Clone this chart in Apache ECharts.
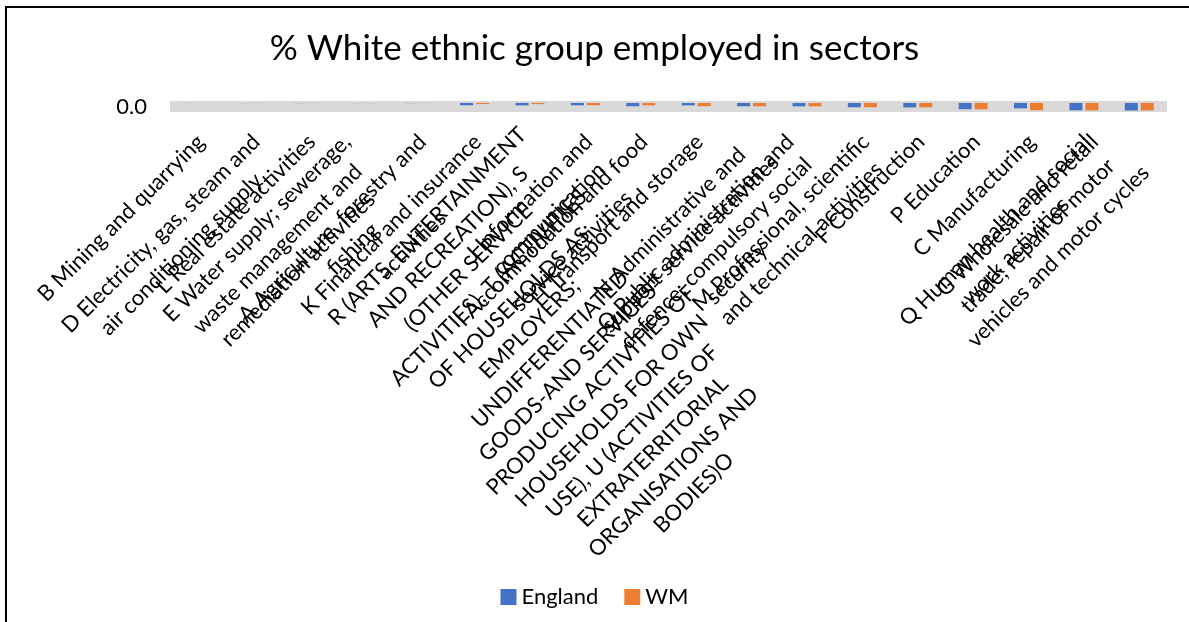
<!DOCTYPE html>
<html>
<head>
<meta charset="utf-8">
<script src="https://cdn.jsdelivr.net/npm/echarts@6/dist/echarts.min.js"></script>
<style>
  html, body { margin: 0; padding: 0; background: #fff; }
  #chart { width: 1189px; height: 622px; position: relative; }
  #frame { position: absolute; left: 5px; top: 6px; width: 1220px; height: 640px;
           border: 2px solid #000; pointer-events: none; box-sizing: border-box; }
</style>
</head>
<body>
<div id="chart"></div>
<div id="frame"></div>
<script>
// Industry sectors (wrapped label lines)
const sectors = [
  ['B Mining and quarrying'],
  ['D Electricity, gas, steam and', 'air conditioning supply'],
  ['L Real estate activities'],
  ['E Water supply; sewerage,', 'waste management and', 'remediation activities'],
  ['A Agriculture, forestry and', 'fishing'],
  ['K Financial and insurance', 'activities'],
  ['R (ARTS, ENTERTAINMENT', 'AND RECREATION), S', '(OTHER SERVICE', 'ACTIVITIES), T (ACTIVITIES',
   'OF HOUSEHOLDS AS', 'EMPLOYERS;', 'UNDIFFERENTIATED', 'GOODS-AND SERVICES-',
   'PRODUCING ACTIVITIES OF', 'HOUSEHOLDS FOR OWN', 'USE), U (ACTIVITIES OF',
   'EXTRATERRITORIAL', 'ORGANISATIONS AND', 'BODIES)O'],
  ['J Information and', 'communication'],
  ['I Accommodation and food', 'service activities'],
  ['H Transport and storage'],
  ['N Administrative and', 'support service activities'],
  ['O Public administration and', 'defence; compulsory social', 'security'],
  ['M Professional, scientific', 'and technical activities'],
  ['F Construction'],
  ['P Education'],
  ['C Manufacturing'],
  ['Q Human health and social', 'work activities'],
  ['G Wholesale and retail', 'trade; repair of motor', 'vehicles and motor cycles']
];
const categories = sectors.map(lines => lines.join('\n'));

// % of the White ethnic group employed in each sector
const england = [0.1, 0.2, 0.3, 0.2, 0.3, 4.5, 4.7, 4.6, 6.5, 4.8, 6.6, 6.7, 8.5, 8.8, 12.4, 10.7, 14.6, 15.0];
const wm      = [0.1, 0.2, 0.2, 0.3, 0.2, 2.1, 2.2, 4.4, 4.6, 6.4, 6.5, 6.7, 8.4, 8.7, 12.6, 14.5, 14.7, 14.9];

const valueTicks = [0];

const FONT = 'Lato, "Open Sans", sans-serif';
const LABEL_SIZE = 22;
const LINE_H = 29;
const BASE_PAD_RIGHT = 10;

// Screen-space nudges (dx, dy) for a few of the taller rotated label blocks.
const labelNudge = { 3: [-20, 0], 6: [-5, -13], 11: [-20, 0], 17: [-38, -10] };

// Turn a screen nudge into padding / vertical alignment for a label rotated 45°.
function nudgeStyle(idx) {
  const n = labelNudge[idx];
  if (!n) return null;
  const [dx, dy] = n;
  const a = (-dx + dy) / Math.SQRT2;   // shift back along the text direction
  const b = (-dx - dy) / Math.SQRT2;   // shift "up" perpendicular to the text
  const h = sectors[idx].length * LINE_H;
  const padRight = BASE_PAD_RIGHT + a;
  if (b > 0) {
    return { verticalAlign: 'middle', padding: [h - 2 * b, padRight, 0, 0] };
  }
  return { verticalAlign: 'top', padding: [-b, padRight, 0, 0] };
}

const categoryItems = categories.map((c, i) => {
  const s = nudgeStyle(i);
  return s ? { value: c, textStyle: s } : c;
});

const chart = echarts.init(document.getElementById('chart'), null, { renderer: 'canvas' });
chart.setOption({
  animation: false,
  backgroundColor: '#fff',
  title: {
    text: '% White ethnic group employed in sectors',
    left: 'center',
    top: 26,
    textStyle: { fontFamily: FONT, fontSize: 35, fontWeight: 'normal', color: '#000' }
  },
  legend: {
    data: ['England', 'WM'],
    left: 'center',
    top: 581,
    itemWidth: 16,
    itemHeight: 16,
    itemGap: 26,
    icon: 'rect',
    textStyle: { fontFamily: FONT, fontSize: 22, color: '#000' }
  },
  grid: {
    left: 170, right: 22, top: 101, height: 11,
    show: true, backgroundColor: '#d9d9d9', borderWidth: 0,
    containLabel: false, outerBoundsMode: 'none'
  },
  xAxis: {
    type: 'category',
    data: categoryItems,
    boundaryGap: true,
    axisLine: { show: false },
    axisTick: { show: false },
    splitLine: { show: false },
    axisLabel: {
      interval: 0,
      rotate: 45,
      margin: 9,
      align: 'right',
      verticalAlign: 'top',
      padding: [0, BASE_PAD_RIGHT, 0, 0],
      formatter: v => v.split('\n').map(s => '{c|' + s + '}').join('\n'),
      rich: {
        c: { align: 'center', fontFamily: FONT, fontSize: LABEL_SIZE, lineHeight: LINE_H, color: '#000' }
      }
    }
  },
  yAxis: {
    type: 'value',
    inverse: true,
    min: -4,
    max: 18,
    axisLine: { show: false },
    axisTick: { show: false },
    splitLine: { show: false },
    axisLabel: {
      customValues: valueTicks,
      margin: 23,
      verticalAlign: 'top',
      padding: [-9, 0, 0, 0],
      formatter: v => v.toFixed(1),
      fontFamily: FONT, fontSize: 22, lineHeight: 26, color: '#000'
    }
  },
  series: [
    { name: 'England', type: 'bar', data: england, barWidth: 13, barGap: '23%',
      itemStyle: { color: '#4472C4' } },
    { name: 'WM', type: 'bar', data: wm, barWidth: 13,
      itemStyle: { color: '#ED7D31' } }
  ]
});
</script>
</body>
</html>
